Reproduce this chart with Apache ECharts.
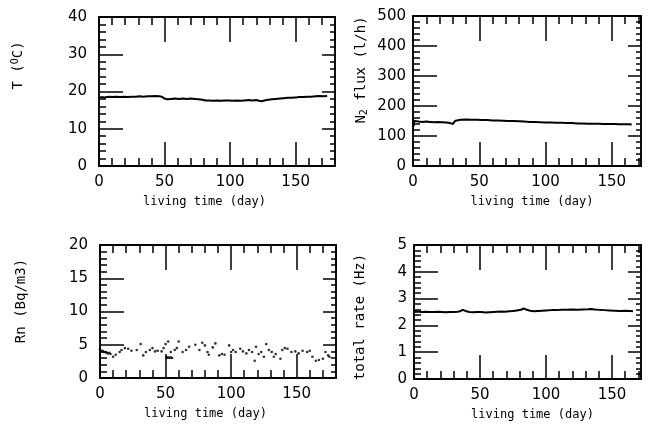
<!DOCTYPE html>
<html><head><meta charset="utf-8">
<script src="https://cdn.jsdelivr.net/npm/echarts@6/dist/echarts.min.js"></script>
<style>html,body{margin:0;padding:0;background:#fff}#c{width:648px;height:425px}</style>
</head><body><div id="c"></div><script>
// ---- data ----
const tempDays = [0,2,4,6,8,10,13,16,19,22,25,28,31,34,37,40,43,46,48,50,52,55,58,61,64,67,70,73,76,79,81,84,87,90,93,96,99,102,105,108,111,114,117,120,122,124,126,129,132,135,138,141,144,147,150,153,156,159,162,165,168,171,174];
const tempVals = [18.3,18.5,18.4,18.5,18.6,18.5,18.6,18.5,18.6,18.5,18.6,18.6,18.7,18.6,18.7,18.7,18.8,18.7,18.6,18.1,17.9,18.0,18.1,18.0,18.1,18.0,18.1,18.0,17.9,17.8,17.6,17.6,17.5,17.6,17.5,17.6,17.6,17.5,17.6,17.5,17.6,17.7,17.6,17.7,17.5,17.4,17.6,17.8,17.9,18.0,18.1,18.2,18.3,18.3,18.4,18.5,18.5,18.6,18.6,18.7,18.8,18.7,18.8];

const n2Days = [0,0.5,1,2,4,7,10,13,16,19,22,25,28,30,31,32,33,36,40,44,48,52,56,60,64,68,72,76,80,84,88,92,96,100,104,108,112,116,120,124,128,132,136,140,144,148,152,156,160,163,165];
const n2Vals = [162,132,150,147,148,147,148,147,146,147,146,145,143,140,139,151,155,154,155,154,154,153,153,152,152,151,150,150,149,148,147,147,146,145,145,144,144,143,143,142,142,141,141,141,140,140,140,139,139,139,138];

const rnDays = [0,1,2,3,4,5,6,7,8,10,12,15,16.4,19,21.5,24,28,31,33,35,38,40,42,44,47,48.5,50,50.5,51,52,52,53,54,54,55,57,58.6,60,63,65.6,68,72.7,75.8,78,80,82,83,86,88,91,93,95,98.5,100,101.5,103.5,107,109,111.6,113.6,116,118,119,121,123,125,126.8,128.8,131,132.6,134,137.6,139,141,143,146,149,151.5,154.5,158,160,162,164.6,167,170,172,174,175];
const rnVals = [4.3,4.0,4.1,3.9,3.9,3.8,3.7,3.8,3.6,3.2,3.5,3.9,4.2,4.5,4.4,4.1,4.2,5.1,3.4,3.9,4.2,4.5,4.0,4.1,4.0,4.5,5.1,3.2,3.0,5.5,3.1,3.0,3.9,3.1,3.0,4.2,4.5,5.5,3.9,4.2,4.7,5.0,4.2,5.3,4.9,3.9,3.5,4.6,5.2,3.4,3.6,3.5,4.9,3.9,4.2,3.9,4.4,4.0,3.7,4.2,3.9,2.6,4.7,3.6,3.9,3.2,5.1,4.2,3.9,3.2,3.6,2.9,4.2,4.5,4.4,3.9,4.0,3.7,4.1,3.9,4.1,3.2,2.6,2.7,2.9,3.9,3.4,3.2];

const rateDays = [0,3,6,9,12,15,18,21,24,27,30,33,35,37,39,42,45,48,51,54,57,60,63,66,69,72,75,78,81,83,85,88,91,94,97,100,104,108,112,116,120,124,128,132,134,137,140,144,148,152,156,160,164,166];
const rateVals = [2.50,2.52,2.50,2.51,2.50,2.50,2.51,2.50,2.49,2.50,2.50,2.51,2.53,2.58,2.54,2.50,2.49,2.50,2.50,2.48,2.49,2.50,2.51,2.52,2.51,2.53,2.54,2.56,2.58,2.63,2.59,2.55,2.53,2.54,2.55,2.56,2.57,2.57,2.58,2.58,2.59,2.58,2.59,2.60,2.61,2.59,2.58,2.57,2.56,2.55,2.54,2.55,2.54,2.53];

const xTitle = 'living time (day)';
const yTitles = ['T ({sup|O}C)', 'N{sub|2} flux (l/h)', 'Rn (Bq/m3)', 'total rate (Hz)'];
const yMax = [40, 500, 20, 5];
const yStep = [10, 100, 5, 1];
const xMax = [180, 172, 180, 172];
const xMajorStep = 50;
const xMinorStep = 10;

// ---- styles ----
const BLACK = '#000';
const lineS = () => ({color: BLACK, width: 1.5});
const tickS = () => ({color: BLACK, width: 1.5});
const numFont = () => ({color: BLACK, fontFamily: 'DejaVu Sans', fontSize: 15});
const rects = [
  {left: 99, top: 17, width: 236, height: 149},
  {left: 413, top: 16, width: 228, height: 150},
  {left: 100, top: 245, width: 236, height: 133},
  {left: 414, top: 245, width: 227, height: 134}
];
const grids = rects.map(r => Object.assign({show: true, borderColor: BLACK, borderWidth: 1.5, outerBoundsMode: 'none'}, r))
  .concat(rects.map(r => Object.assign({show: false, outerBoundsMode: 'none'}, r)));   // overlay grids for the 10-day ticks
const xTitlePad = [[0,25,0,0],[0,0,0,10],[0,25,0,0],[0,0,0,10]];
const yNameGap = [73, 44, 72, 47];
const yNamePad = [[0,0,0,52],[0,0,0,42],[0,0,0,21],[0,10,0,0]];
const yLabelMargin = [12, 7, 12, 7];

const xAxes = [], yAxes = [];
for (let g = 0; g < 4; g++) {
  xAxes.push({gridIndex: g, type: 'value', min: 0, max: xMax[g], interval: xMajorStep, position: 'bottom',
    splitLine: {show: false},
    axisLine: {show: true, onZero: false, lineStyle: lineS()},
    axisTick: {show: true, inside: true, length: 24, lineStyle: tickS()},
    axisLabel: Object.assign({show: true, showMaxLabel: false, margin: 9}, numFont()),
    name: xTitle, nameLocation: 'middle', nameGap: 30,
    nameTextStyle: {color: BLACK, fontFamily: 'DejaVu Sans Mono', fontSize: 12, padding: xTitlePad[g]}
  });
  xAxes.push({gridIndex: g, type: 'value', min: 0, max: xMax[g], interval: xMajorStep, position: 'top',
    splitLine: {show: false},
    axisLine: {show: true, onZero: false, lineStyle: lineS()},
    axisTick: {show: true, inside: true, length: 25, lineStyle: tickS()},
    axisLabel: {show: false}
  });
  yAxes.push({gridIndex: g, type: 'value', min: 0, max: yMax[g], interval: yStep[g], position: 'left',
    splitLine: {show: false},
    axisLine: {show: true, onZero: false, lineStyle: lineS()},
    axisTick: {show: true, inside: true, length: 24, lineStyle: tickS()},
    minorTick: {show: true, splitNumber: 5, length: 7, lineStyle: tickS()},
    axisLabel: Object.assign({show: true, margin: yLabelMargin[g]}, numFont()),
    name: yTitles[g], nameLocation: 'middle', nameGap: yNameGap[g],
    nameTextStyle: {color: BLACK, fontFamily: 'DejaVu Sans Mono', fontSize: 14, padding: yNamePad[g],
      rich: {
        sup: {fontFamily: 'DejaVu Sans Mono', fontSize: 10, color: BLACK, verticalAlign: 'top', padding: [0,0,6,0]},
        sub: {fontFamily: 'DejaVu Sans Mono', fontSize: 10, color: BLACK, verticalAlign: 'bottom', padding: [6,0,0,0]}
      }}
  });
  yAxes.push({gridIndex: g, type: 'value', min: 0, max: yMax[g], interval: yStep[g], position: 'right',
    splitLine: {show: false},
    axisLine: {show: true, onZero: false, lineStyle: lineS()},
    axisTick: {show: true, inside: true, length: 13, lineStyle: tickS()},
    minorTick: {show: true, splitNumber: 5, length: 5, lineStyle: tickS()},
    axisLabel: {show: false}
  });
}
// overlay grids 4..7 carry the 10-day ticks (bottom and top); their labels are invisible
for (let g = 0; g < 4; g++) {
  xAxes.push({gridIndex: 4 + g, type: 'value', min: 0, max: xMax[g], interval: xMinorStep, position: 'bottom',
    axisLine: {onZero: false, lineStyle: lineS()},
    axisTick: {show: true, inside: true, length: 8, lineStyle: tickS()},
    axisLabel: {show: true, color: 'rgba(0,0,0,0)', fontSize: 8, margin: 25},
    splitLine: {show: false}});
  xAxes.push({gridIndex: 4 + g, type: 'value', min: 0, max: xMax[g], interval: xMinorStep, position: 'top',
    axisLine: {onZero: false, lineStyle: lineS()},
    axisTick: {show: true, inside: true, length: 8, lineStyle: tickS()},
    axisLabel: {show: true, inside: true, color: 'rgba(0,0,0,0)', fontSize: 8, margin: 25},
    splitLine: {show: false}});
}
for (let g = 0; g < 4; g++) {
  yAxes.push({gridIndex: 4 + g, type: 'value', min: 0, max: yMax[g], interval: yStep[g],
    axisLine: {show: false, onZero: false}, axisTick: {show: false}, axisLabel: {show: false}, splitLine: {show: false}});
}

const zip = (a, b) => a.map((d, i) => [d, b[i]]);
const lineSeries = (g, days, vals) => ({
  type: 'line', xAxisIndex: 2 * g, yAxisIndex: 2 * g, data: zip(days, vals),
  symbol: 'none', lineStyle: {color: '#000', width: 2}, silent: true
});

const chart = echarts.init(document.getElementById('c'));
chart.setOption({
  animation: false,
  backgroundColor: '#fff',
  grid: grids,
  xAxis: xAxes,
  yAxis: yAxes,
  series: [
    lineSeries(0, tempDays, tempVals),
    lineSeries(1, n2Days, n2Vals),
    {type: 'scatter', xAxisIndex: 4, yAxisIndex: 4, data: zip(rnDays, rnVals),
     symbol: 'circle', symbolSize: 2.6, itemStyle: {color: '#000'}, silent: true},
    lineSeries(3, rateDays, rateVals)
  ]
});
</script></body></html>
